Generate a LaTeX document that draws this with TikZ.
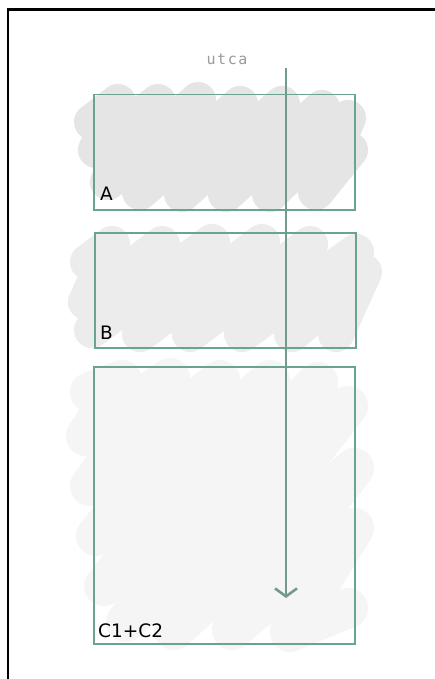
\documentclass[tikz,border=0pt]{standalone}
\usepackage{fontspec}
\setmainfont{DejaVu Sans}
\newfontfamily\utcafont[LetterSpace=10]{DejaVu Sans Mono}
\usetikzlibrary{arrows.meta}
\definecolor{boxline}{HTML}{6AA394}
\definecolor{arrowc}{HTML}{729A91}
\definecolor{txtgray}{HTML}{9A9A9A}
\tikzset{
  fillscrib/.style={line width=36pt,line cap=round,line join=round},
  zonebox/.style={draw=boxline,line width=1.5pt,fill=none,inner sep=0pt,anchor=north west},
  zonelabel/.style={anchor=base west,inner sep=0pt,font=\fontsize{18.5}{18.5}\selectfont},
  flowarrow/.style={draw=arrowc,line width=2.8pt,-{Straight Barb[length=8pt,width=22pt,line width=2.6pt]}},
}
\begin{document}
\begin{tikzpicture}[x=1pt,y=-1pt]
\useasboundingbox (0,0) rectangle (435,679);
\fill[white] (0,0) rectangle (435,679);
% frame
\draw[black,line width=2.2pt] (8,690) -- (8,9.5) -- (445,9.5);
% scribbles
\draw[fillscrib,black!10] (92,122) -- (118,102) -- (96,150) -- (158,102) -- (108,182) -- (198,100) -- (140,192) -- (240,104) -- (182,194) -- (282,104) -- (226,194) -- (322,108) -- (270,194) -- (348,118) -- (316,192) -- (350,150);
\draw[fillscrib,black!7.5] (88,262) -- (112,244) -- (86,302) -- (162,244) -- (92,330) -- (212,242) -- (140,334) -- (262,242) -- (190,334) -- (310,244) -- (242,334) -- (356,252) -- (292,334) -- (364,272) -- (336,334);
\draw[fillscrib,line width=40pt,black!4] (90,392) -- (122,380) -- (86,436) -- (170,378) -- (90,486) -- (220,380) -- (96,536) -- (270,380) -- (104,586) -- (318,382) -- (126,622) -- (348,406) -- (174,630) -- (354,468) -- (232,630) -- (354,528) -- (290,632) -- (348,608);
% boxes
\node[zonebox,minimum width=261pt,minimum height=115pt] (A) at (93,94) {};
\node[zonebox,minimum width=261pt,minimum height=115pt] (B) at (94,232) {};
\node[zonebox,minimum width=261pt,minimum height=277pt] (C) at (93,366) {};
\node[zonelabel] (la) at ([xshift=7pt,yshift=10pt]A.south west) {A};
\node[zonelabel] (lb) at ([xshift=6pt,yshift=9pt]B.south west) {B};
\node[zonelabel] (lc) at ([xshift=5pt,yshift=7pt]C.south west) {C1+C2};
% arrow
\node[anchor=base,inner sep=0pt,text=txtgray,font=\utcafont\fontsize{15}{15}\selectfont] (utca) at (227,65) {utca};
\coordinate (s) at (286,68);
\coordinate (e) at (286,598);
\draw[flowarrow] (s) -- (e);
\end{tikzpicture}
\end{document}
